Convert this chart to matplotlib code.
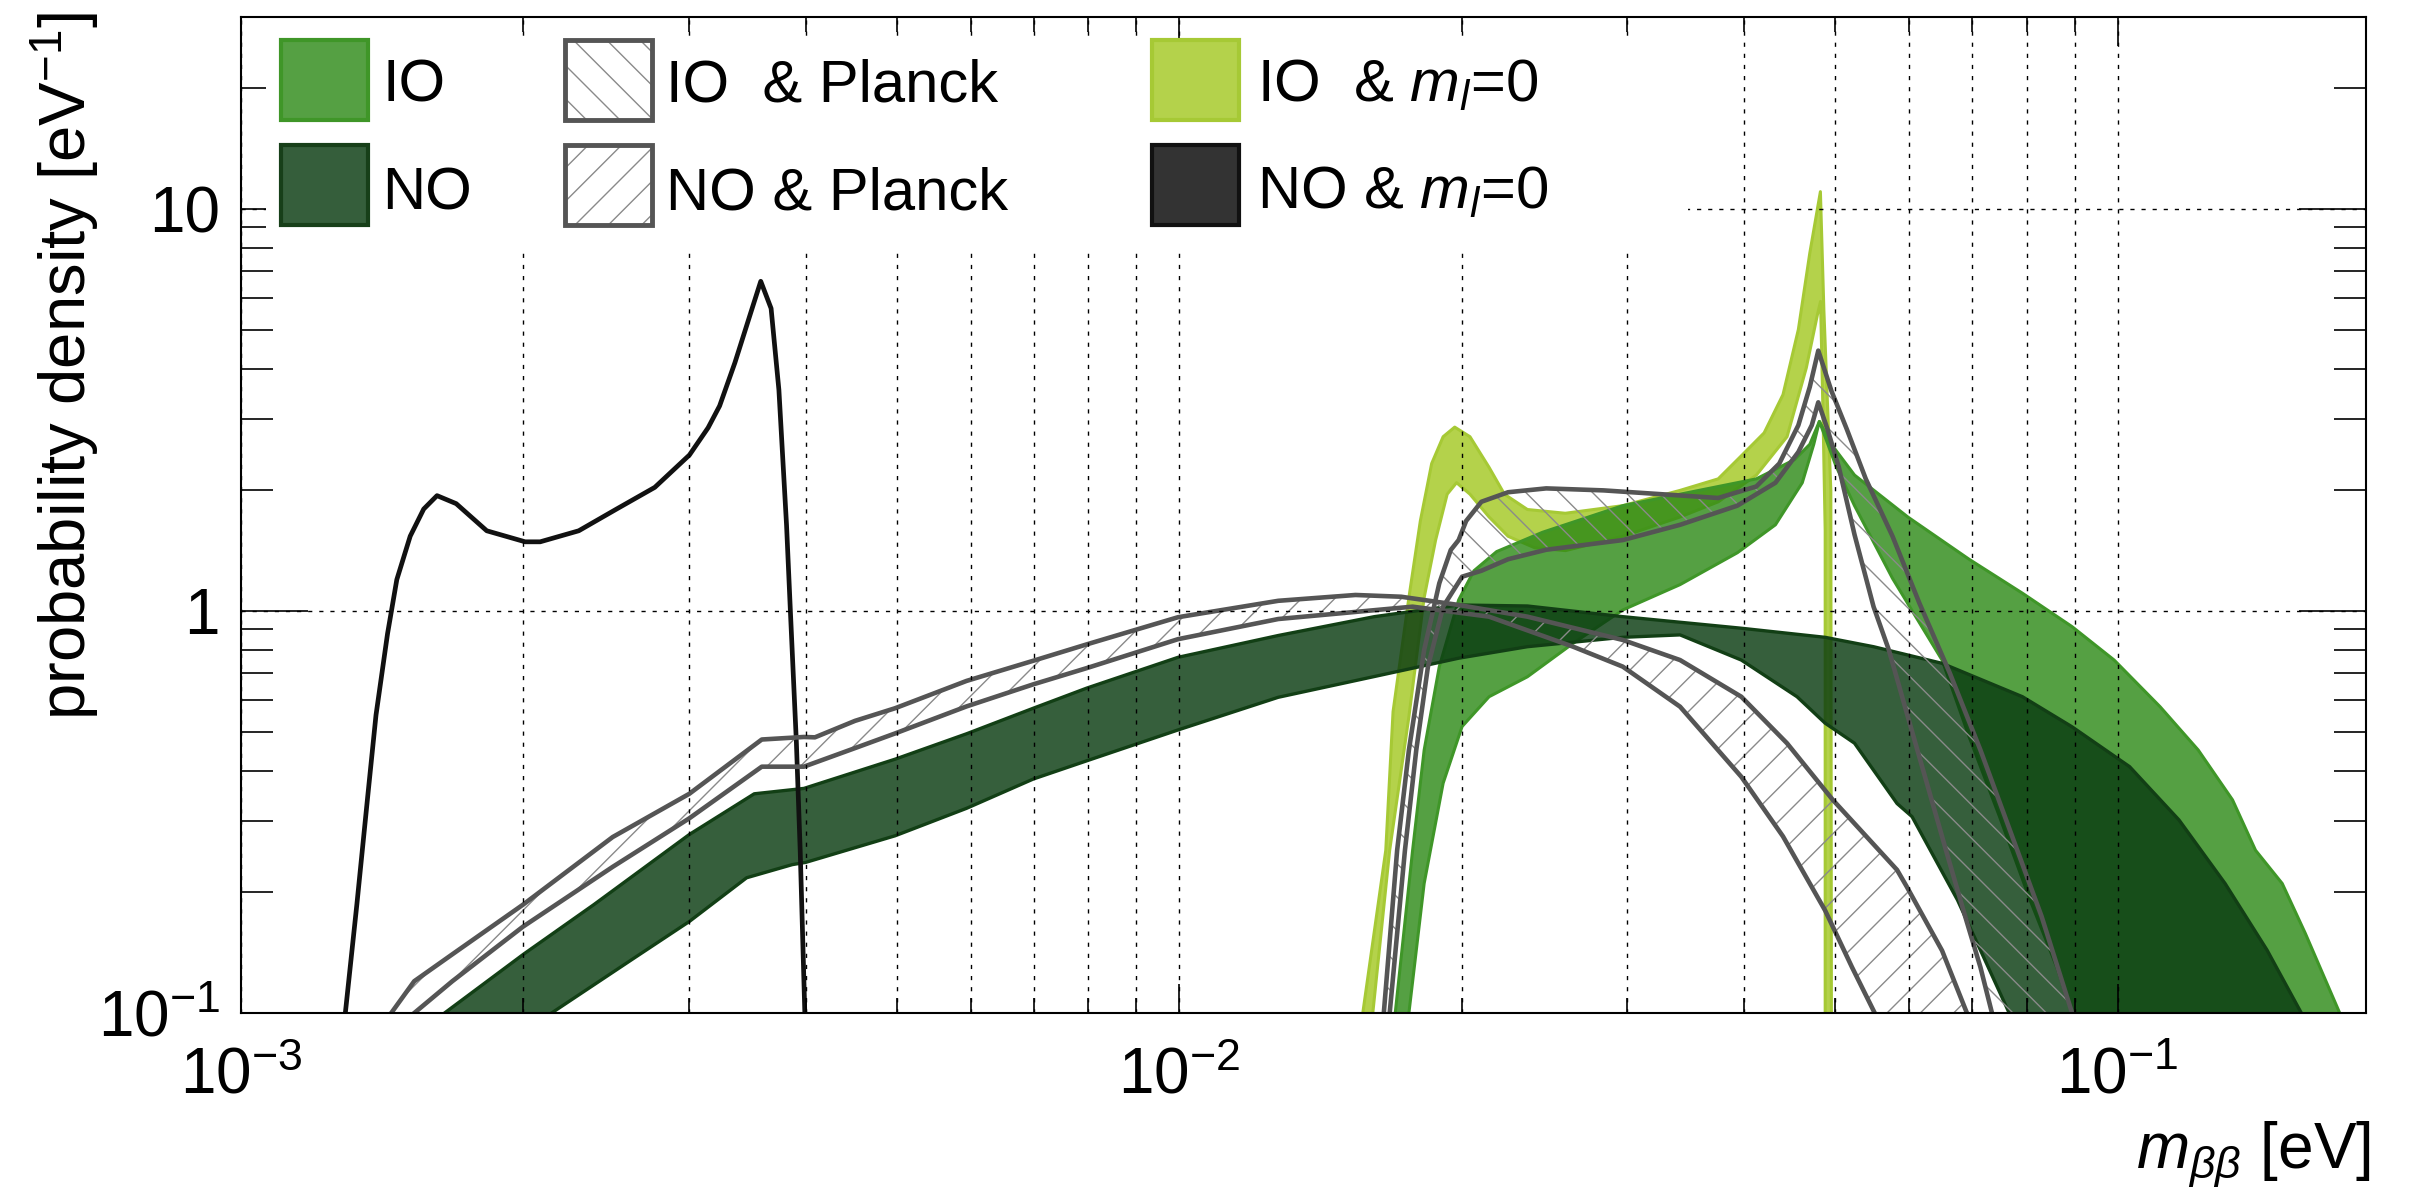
import numpy as np
import matplotlib.pyplot as plt
from matplotlib.patches import Polygon, Rectangle
from matplotlib.ticker import LogLocator, FixedLocator, FuncFormatter, NullFormatter

plt.rcParams['font.family'] = ['Liberation Sans', 'DejaVu Sans']
plt.rcParams['mathtext.fontset'] = 'custom'
plt.rcParams['mathtext.rm'] = 'Liberation Sans'
plt.rcParams['mathtext.it'] = 'Liberation Sans:italic'
plt.rcParams['mathtext.bf'] = 'Liberation Sans:bold'
plt.rcParams['hatch.linewidth'] = 1.0

# ---- NO & m_l=0 : single curve ----
no_ml0_m = [1.292e-3, 1.329e-3, 1.365e-3, 1.393e-3, 1.433e-3, 1.466e-3, 1.515e-3,
            1.566e-3, 1.618e-3, 1.696e-3, 1.828e-3, 2.009e-3, 2.084e-3, 2.291e-3,
            2.514e-3, 2.761e-3, 3.006e-3, 3.147e-3, 3.237e-3, 3.361e-3, 3.491e-3,
            3.581e-3, 3.673e-3, 3.744e-3, 3.815e-3, 3.851e-3, 3.908e-3, 3.945e-3,
            3.990e-3]
no_ml0_p = [0.1, 0.186, 0.346, 0.551, 0.878, 1.197, 1.535,
            1.793, 1.936, 1.849, 1.583, 1.486, 1.486, 1.583,
            1.793, 2.030, 2.443, 2.856, 3.236, 4.146, 5.483,
            6.607, 5.656, 3.548, 1.633, 1.0, 0.472, 0.253,
            0.1]

# ---- NO band ----
no_hi_m = [1.648e-3, 2.000e-3, 2.377e-3, 3.005e-3, 3.524e-3, 3.981e-3, 4.980e-3,
           5.934e-3, 6.990e-3, 7.970e-3, 9.972e-3, 1.275e-2, 1.614e-2, 1.985e-2,
           2.350e-2, 2.970e-2, 3.972e-2, 4.879e-2, 5.495e-2, 6.501e-2, 7.919e-2,
           8.945e-2, 0.1030, 0.1163, 0.1302, 0.1443, 0.1570]
no_hi_p = [0.1, 0.140, 0.186, 0.278, 0.351, 0.362, 0.428,
           0.495, 0.573, 0.643, 0.767, 0.869, 0.968, 1.035,
           1.029, 0.968, 0.906, 0.860, 0.815, 0.741, 0.612,
           0.515, 0.410, 0.302, 0.210, 0.1435, 0.1]
no_lo_m = [2.143e-3, 2.612e-3, 3.006e-3, 3.459e-3, 3.870e-3, 3.999e-3, 4.980e-3,
           5.934e-3, 6.990e-3, 7.970e-3, 9.972e-3, 1.275e-2, 1.614e-2, 1.985e-2,
           2.350e-2, 2.970e-2, 3.418e-2, 3.972e-2, 4.554e-2, 4.879e-2, 5.244e-2,
           5.821e-2, 6.039e-2, 6.752e-2, 7.281e-2, 7.665e-2]
no_lo_p = [0.1, 0.136, 0.169, 0.217, 0.234, 0.237, 0.276,
           0.323, 0.382, 0.424, 0.506, 0.610, 0.687, 0.763,
           0.815, 0.860, 0.872, 0.755, 0.612, 0.526, 0.469,
           0.332, 0.308, 0.191, 0.130, 0.1]

# ---- NO & Planck band ----
nopl_hi_m = [1.446e-3, 1.530e-3, 1.680e-3, 1.998e-3, 2.490e-3, 3.005e-3, 3.590e-3,
             3.981e-3, 4.090e-3, 4.513e-3, 4.980e-3, 5.934e-3, 6.990e-3, 7.970e-3,
             9.972e-3, 1.275e-2, 1.541e-2, 1.724e-2, 1.985e-2, 2.350e-2, 2.970e-2,
             3.418e-2, 3.972e-2, 4.443e-2, 4.972e-2, 5.821e-2, 5.963e-2, 6.501e-2,
             6.910e-2]
nopl_hi_p = [0.1, 0.120, 0.140, 0.186, 0.274, 0.351, 0.479,
             0.486, 0.485, 0.533, 0.573, 0.670, 0.752, 0.826,
             0.965, 1.060, 1.096, 1.085, 1.035, 0.968, 0.847,
             0.755, 0.612, 0.469, 0.339, 0.227, 0.206, 0.143,
             0.1]
nopl_lo_m = [1.530e-3, 1.680e-3, 1.998e-3, 2.490e-3, 3.005e-3, 3.590e-3, 3.981e-3,
             4.513e-3, 4.980e-3, 5.934e-3, 6.990e-3, 7.970e-3, 9.972e-3, 1.275e-2,
             1.773e-2, 2.139e-2, 2.629e-2, 2.970e-2, 3.418e-2, 3.972e-2, 4.400e-2,
             4.879e-2, 5.212e-2, 5.511e-2]
nopl_lo_p = [0.1, 0.120, 0.164, 0.231, 0.305, 0.410, 0.410,
             0.456, 0.496, 0.579, 0.657, 0.721, 0.851, 0.955,
             1.025, 0.968, 0.815, 0.727, 0.578, 0.387, 0.275,
             0.180, 0.130, 0.1]

# ---- IO band ----
io_hi_m = [1.699e-2, 1.773e-2, 1.824e-2, 1.893e-2, 1.985e-2, 2.061e-2, 2.179e-2,
           2.438e-2, 2.970e-2, 3.581e-2, 4.121e-2, 4.526e-2, 4.699e-2, 4.811e-2,
           4.955e-2, 5.244e-2, 5.977e-2, 6.946e-2, 7.919e-2, 8.945e-2, 9.917e-2,
           0.1110, 0.1219, 0.1326, 0.1403, 0.1498, 0.1585, 0.1725]
io_hi_p = [0.1, 0.254, 0.451, 0.727, 1.065, 1.259, 1.405,
           1.569, 1.828, 1.995, 2.131, 2.379, 2.597, 2.961,
           2.597, 2.178, 1.713, 1.345, 1.107, 0.914, 0.755,
           0.578, 0.451, 0.339, 0.254, 0.210, 0.158, 0.1]
io_lo_m = [1.757e-2, 1.824e-2, 1.911e-2, 2.002e-2, 2.139e-2, 2.350e-2, 2.629e-2,
           2.970e-2, 3.418e-2, 3.934e-2, 4.319e-2, 4.613e-2, 4.745e-2, 4.811e-2,
           5.012e-2, 5.244e-2, 5.757e-2, 6.501e-2, 6.946e-2, 7.485e-2, 8.068e-2,
           8.615e-2, 8.945e-2]
io_lo_p = [0.1, 0.210, 0.373, 0.516, 0.612, 0.686, 0.831,
           1.006, 1.163, 1.396, 1.638, 2.084, 2.597, 2.961,
           2.291, 1.828, 1.205, 0.755, 0.487, 0.308, 0.191,
           0.130, 0.1]

# ---- IO & Planck band ----
iopl_hi_m = [1.652e-2, 1.707e-2, 1.757e-2, 1.824e-2, 1.893e-2, 1.947e-2, 1.985e-2,
             2.022e-2, 2.099e-2, 2.241e-2, 2.461e-2, 2.833e-2, 3.262e-2, 3.753e-2,
             4.121e-2, 4.360e-2, 4.569e-2, 4.699e-2, 4.798e-2, 4.955e-2, 5.145e-2,
             5.391e-2, 5.757e-2, 6.148e-2, 6.627e-2, 7.143e-2, 7.700e-2, 8.299e-2,
             8.945e-2]
iopl_hi_p = [0.1, 0.254, 0.451, 0.80, 1.172, 1.418, 1.501,
             1.675, 1.869, 1.974, 2.018, 1.995, 1.952, 1.910,
             2.040, 2.326, 2.897, 3.608, 4.442, 3.527, 2.835,
             2.131, 1.534, 1.047, 0.700, 0.451, 0.280, 0.174,
             0.1]
iopl_lo_m = [1.676e-2, 1.740e-2, 1.789e-2, 1.841e-2, 1.911e-2, 2.002e-2, 2.099e-2,
             2.241e-2, 2.461e-2, 2.970e-2, 3.418e-2, 3.934e-2, 4.319e-2, 4.569e-2,
             4.722e-2, 4.798e-2, 4.907e-2, 5.047e-2, 5.244e-2, 5.495e-2, 5.705e-2,
             5.977e-2, 6.263e-2, 6.564e-2, 6.880e-2, 7.143e-2, 7.348e-2]
iopl_lo_p = [0.1, 0.254, 0.451, 0.727, 1.025, 1.217, 1.259,
             1.345, 1.420, 1.501, 1.638, 1.828, 2.084, 2.485,
             2.897, 3.304, 2.835, 2.275, 1.549, 1.025, 0.80,
             0.546, 0.373, 0.254, 0.174, 0.130, 0.1]

# ---- IO & m_l=0 band ----
ioml0_hi_m = [1.569e-2, 1.660e-2, 1.690e-2, 1.757e-2, 1.807e-2, 1.858e-2, 1.911e-2,
              1.966e-2, 2.041e-2, 2.139e-2, 2.221e-2, 2.350e-2, 2.579e-2, 2.970e-2,
              3.418e-2, 3.753e-2, 3.972e-2, 4.201e-2, 4.400e-2, 4.569e-2, 4.699e-2,
              4.823e-2, 4.864e-2, 4.948e-2, 4.955e-2]
ioml0_hi_p = [0.1, 0.254, 0.562, 1.080, 1.675, 2.327, 2.713,
              2.866, 2.713, 2.276, 1.952, 1.788, 1.750, 1.828,
              1.995, 2.131, 2.431, 2.773, 3.452, 5.012, 7.762,
              11.04, 5.623, 1.995, 0.1]
ioml0_lo_m = [1.608e-2, 1.676e-2, 1.757e-2, 1.824e-2, 1.876e-2, 1.930e-2, 1.975e-2,
              2.041e-2, 2.139e-2, 2.241e-2, 2.393e-2, 2.580e-2, 2.970e-2, 3.418e-2,
              3.754e-2, 4.122e-2, 4.444e-2, 4.659e-2, 4.789e-2, 4.825e-2, 4.853e-2,
              4.880e-2, 4.880e-2]
ioml0_lo_p = [0.1, 0.254, 0.546, 1.080, 1.501, 1.952, 2.085,
              1.952, 1.713, 1.534, 1.436, 1.413, 1.534, 1.713,
              1.869, 2.178, 2.713, 4.024, 5.470, 5.888, 3.162,
              1.585, 0.1]

x_labels = {1e-3: r'$10^{-3}$', 1e-2: r'$10^{-2}$', 1e-1: r'$10^{-1}$'}
y_labels = {0.1: r'$10^{-1}$', 1.0: '1', 10.0: '10'}

IO_GREEN = '#55a043'
NO_GREEN = '#355e3b'
YELLOW = '#b4d24b'
GREY = '#555555'


def band(ax, m_hi, p_hi, m_lo, p_lo, face, edge=None, lw=2.2, z=1, hatch=None):
    verts = list(zip(m_hi, p_hi)) + list(zip(m_lo[::-1], p_lo[::-1]))
    if hatch is None:
        ax.add_patch(Polygon(verts, closed=True, facecolor=face, edgecolor='none', zorder=z))
    else:
        ax.add_patch(Polygon(verts, closed=True, facecolor='none', edgecolor=face,
                             hatch=hatch, lw=0, zorder=z))
    if edge is not None:
        ax.plot(m_hi, p_hi, color=edge, lw=lw, zorder=z + 0.1, solid_joinstyle='round')
        ax.plot(m_lo, p_lo, color=edge, lw=lw, zorder=z + 0.1, solid_joinstyle='round')


fig = plt.figure(figsize=(24.19, 12.03), dpi=100)
ax = fig.add_axes([0.0996, 0.1579, 0.8785, 0.8279])
ax.set_xscale('log')
ax.set_yscale('log')
ax.set_xlim(1e-3, 0.184)
ax.set_ylim(0.1, 30)

band(ax, ioml0_hi_m, ioml0_hi_p, ioml0_lo_m, ioml0_lo_p, YELLOW, '#a6c935', lw=2.2, z=1)
band(ax, io_hi_m, io_hi_p, io_lo_m, io_lo_p, (0.169, 0.533, 0.078, 0.8), '#3f9628', lw=2.2, z=2)
band(ax, no_hi_m, no_hi_p, no_lo_m, no_lo_p, (0.039, 0.235, 0.067, 0.82), '#123f15', lw=2.4, z=3)
ax.plot(no_ml0_m, no_ml0_p, color='#111111', lw=3.4, zorder=3.5, solid_joinstyle='round')
band(ax, nopl_hi_m, nopl_hi_p, nopl_lo_m, nopl_lo_p, '#8a8a8a', GREY, lw=3.3, z=3.6, hatch='/')
band(ax, iopl_hi_m, iopl_hi_p, iopl_lo_m, iopl_lo_p, '#8a8a8a', GREY, lw=3.3, z=3.6, hatch='\\')

# axes, ticks, grid
ax.xaxis.set_major_locator(FixedLocator(list(x_labels)))
ax.xaxis.set_major_formatter(FuncFormatter(lambda v, pos: x_labels.get(round(v, 6), '')))
ax.xaxis.set_minor_locator(LogLocator(base=10, subs=np.arange(2, 10)))
ax.xaxis.set_minor_formatter(NullFormatter())
ax.yaxis.set_major_locator(FixedLocator(list(y_labels)))
ax.yaxis.set_major_formatter(FuncFormatter(lambda v, pos: y_labels.get(round(v, 6), '')))
ax.yaxis.set_minor_locator(LogLocator(base=10, subs=np.arange(2, 10)))
ax.yaxis.set_minor_formatter(NullFormatter())

ax.tick_params(axis='both', which='both', direction='in', top=True, right=True,
               width=1.2, labelsize=46, colors='black')
ax.tick_params(axis='y', which='major', length=48, pad=15)
ax.tick_params(axis='y', which='minor', length=23)
ax.tick_params(axis='x', which='major', length=21, pad=24)
ax.tick_params(axis='x', which='minor', length=11)

grid_kw = dict(color='black', lw=1.0, linestyle=(0, (3, 5)))
ax.grid(True, axis='x', which='both', **grid_kw)
ax.grid(True, axis='y', which='major', **grid_kw)
ax.xaxis.set_zorder(4)
ax.yaxis.set_zorder(4)
for sp in ax.spines.values():
    sp.set_linewidth(1.5)
    sp.set_zorder(7)

# legend block (white box over grid and ticks)
ax.add_patch(Rectangle((0.0118, 0.769), 0.669, 0.208, transform=ax.transAxes,
                       facecolor='white', edgecolor='none', zorder=5))

legend_entries = [
    ('IO', 0, 0, IO_GREEN, '#3f9628', None),
    ('NO', 0, 1, NO_GREEN, '#173f19', None),
    ('IO  & Planck', 1, 0, 'white', GREY, '\\'),
    ('NO & Planck', 1, 1, 'white', GREY, '/'),
    (r'IO  & $m_l$=0', 2, 0, YELLOW, '#a6c935', None),
    (r'NO & $m_l$=0', 2, 1, '#333333', '#111111', None),
]
col_box_x = [0.0188, 0.1525, 0.4287]
col_text_x = [0.0664, 0.2000, 0.4781]
row_box_y = [0.8966, 0.7912]
row_base_y = [0.9154, 0.8072]
box_w, box_h = 0.0410, 0.0800

for label, col, row, face, edge, hatch in legend_entries:
    x0, y0 = col_box_x[col], row_box_y[row]
    if hatch is not None:
        ax.add_patch(Rectangle((x0, y0), box_w, box_h, transform=ax.transAxes,
                               facecolor='white', edgecolor='#8a8a8a', hatch=hatch,
                               lw=0, zorder=6))
        ax.add_patch(Rectangle((x0, y0), box_w, box_h, transform=ax.transAxes,
                               facecolor='none', edgecolor=edge, lw=3.5, zorder=6.1))
    else:
        ax.add_patch(Rectangle((x0, y0), box_w, box_h, transform=ax.transAxes,
                               facecolor=face, edgecolor=edge, lw=3.0, zorder=6))
    ax.text(col_text_x[col], row_base_y[row], label, transform=ax.transAxes,
            fontsize=43, ha='left', va='baseline', zorder=6.2)

fig.text(0.0269, 0.990, r'probability density [eV$^{-1}$]', rotation=90,
         ha='center', va='top', fontsize=47)
fig.text(0.980, 0.012, r'$m_{\beta\beta}$ [eV]', ha='right', va='bottom', fontsize=46)

fig.savefig('out.png', dpi=100)
